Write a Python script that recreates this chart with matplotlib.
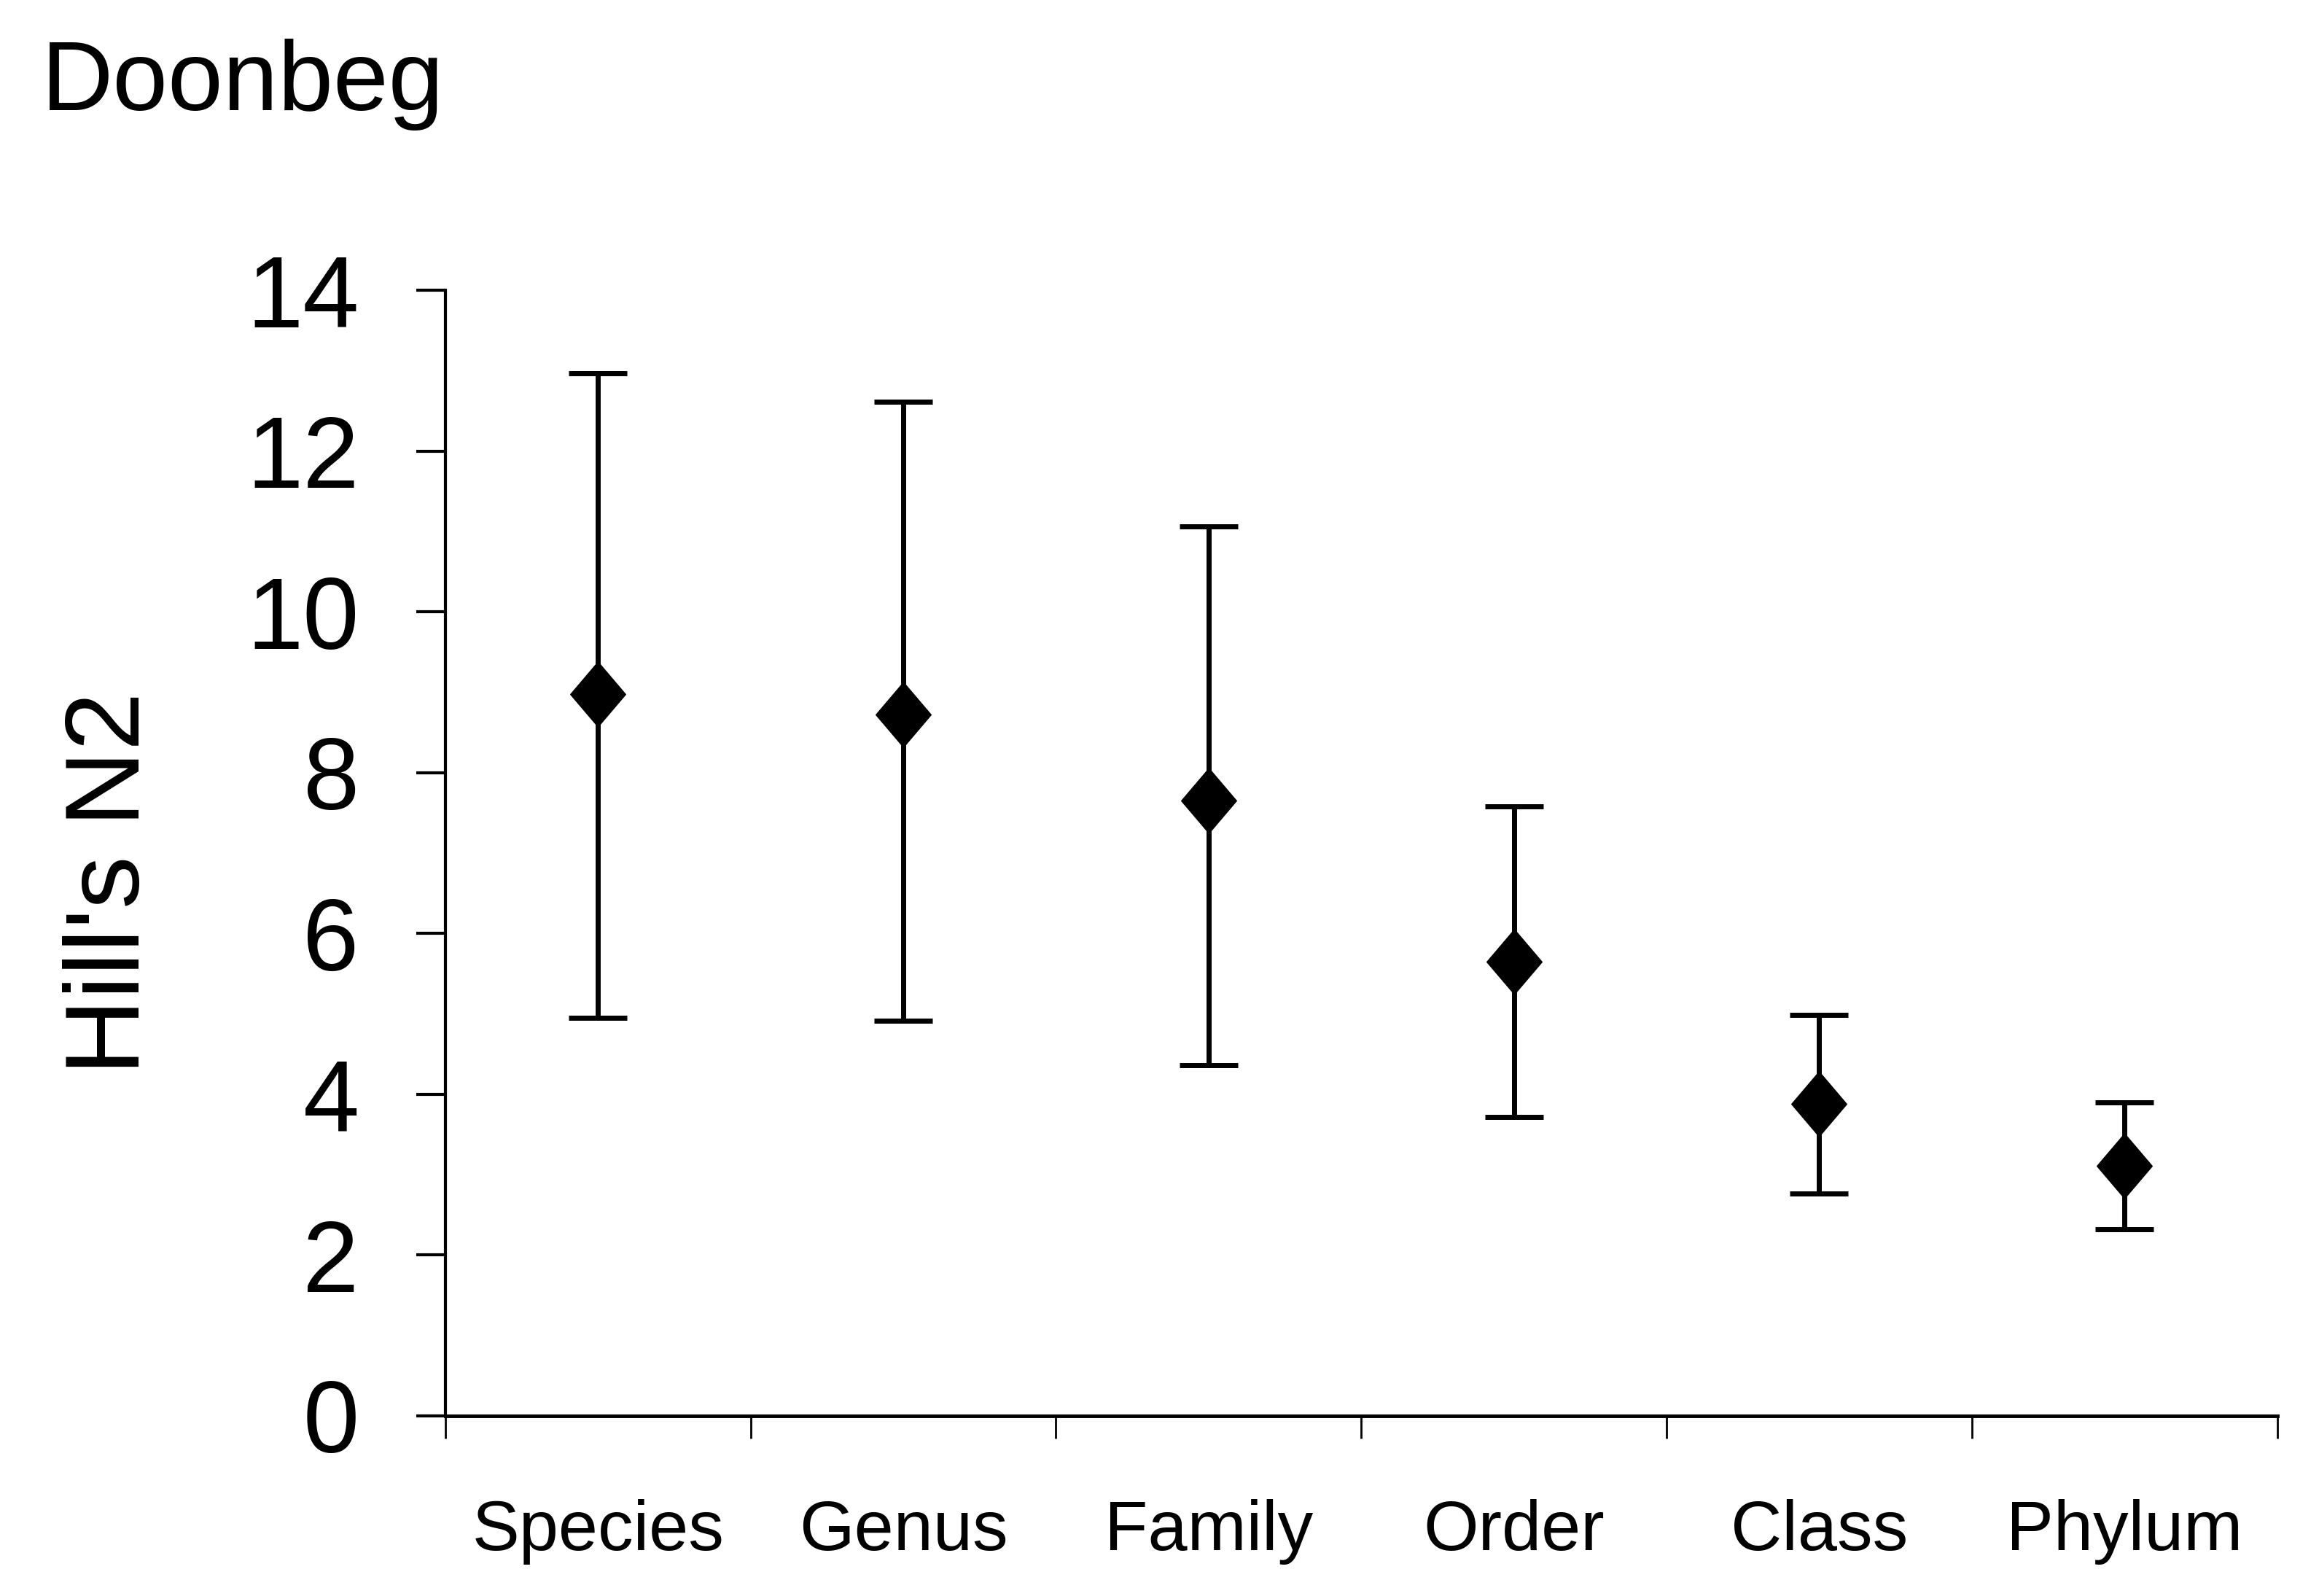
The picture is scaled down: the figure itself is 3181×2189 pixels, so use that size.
import matplotlib
matplotlib.use('Agg')
import matplotlib.pyplot as plt
import numpy as np

plt.rcParams['font.family'] = ['Liberation Sans', 'DejaVu Sans']

# values
levels = ['Species', 'Genus', 'Family', 'Order', 'Class', 'Phylum']
n2_mean = [8.98, 8.72, 7.65, 5.65, 3.88, 3.11]
n2_upper = [12.97, 12.62, 11.06, 7.58, 4.99, 3.90]
n2_lower = [4.95, 4.91, 4.36, 3.72, 2.76, 2.32]
y_ticks = [0, 2, 4, 6, 8, 10, 12, 14]

x = np.arange(len(levels))
mean = np.array(n2_mean)
yerr = [mean - np.array(n2_lower), np.array(n2_upper) - mean]

fig = plt.figure(figsize=(31.81, 21.89), dpi=100)
ax = fig.add_axes([0.192, 0.113, 0.790, 0.705])

# slightly tall diamond
diamond = [(0, 1), (0.85, 0), (0, -1), (-0.85, 0), (0, 1)]
ax.errorbar(x, mean, yerr=yerr, fmt='none', ecolor='black',
            elinewidth=5, capsize=29, capthick=5)
ax.plot(x, mean, linestyle='none', marker=diamond, markersize=64,
        color='black')

ax.set_xlim(-0.5, 5.5)
ax.set_ylim(0, 14)
ax.set_yticks(y_ticks)
ax.set_xticks(x)
ax.set_xticklabels(levels, fontsize=70)
ax.set_xticks(np.arange(-0.5, 6.0, 1.0), minor=True)

ax.tick_params(axis='y', direction='out', length=29, width=3,
               labelsize=100, pad=56)
ax.tick_params(axis='x', which='major', length=0, pad=82)
ax.tick_params(axis='x', which='minor', direction='out', length=22, width=2)

for s in ['top', 'right']:
    ax.spines[s].set_visible(False)
ax.spines['left'].set_linewidth(3)
ax.spines['bottom'].set_linewidth(3.5)

ax.set_ylabel("Hill's N2", fontsize=104)
ax.yaxis.set_label_coords(-0.155, 0.473)

fig.text(0.018, 0.931, 'Doonbeg', fontsize=98, ha='left', va='baseline')

fig.savefig('out.png', dpi=100, facecolor='white')
